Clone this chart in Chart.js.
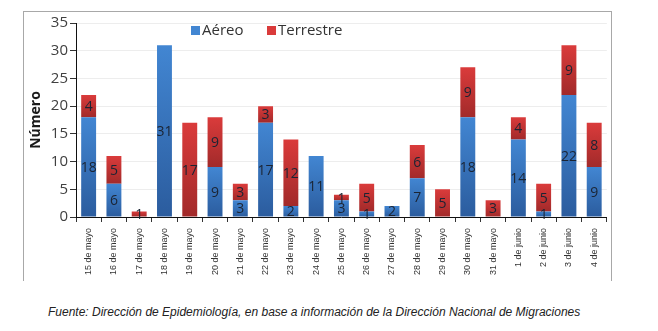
<!DOCTYPE html>
<html lang="es">
<head>
<meta charset="utf-8">
<title>Casos por vía de ingreso</title>
<script src="https://cdn.jsdelivr.net/npm/chart.js@4.4.1/dist/chart.umd.min.js"></script>
<style>
  body { margin: 0; background: #fff; width: 658px; height: 331px; position: relative; overflow: hidden; }
  #marco { position: absolute; left: 23px; top: 11px; width: 587px; height: 269px;
           border: 1px solid #a8a8a8; border-bottom: none; }
  #marco canvas { display: block; }
  #fuente { position: absolute; left: 48px; top: 305px; margin: 0;
            font: italic 12px "Liberation Sans", Arial, sans-serif; color: #222; }
</style>
</head>
<body>
<div id="marco"><canvas id="grafico" width="587" height="269"></canvas></div>
<p id="fuente">Fuente: Dirección de Epidemiología, en base a información de la Dirección Nacional de Migraciones</p>

<script>
// Fechas y casos por día
const fechas = [
  '15 de mayo', '16 de mayo', '17 de mayo', '18 de mayo', '19 de mayo', '20 de mayo',
  '21 de mayo', '22 de mayo', '23 de mayo', '24 de mayo', '25 de mayo', '26 de mayo',
  '27 de mayo', '28 de mayo', '29 de mayo', '30 de mayo', '31 de mayo',
  '1 de junio', '2 de junio', '3 de junio', '4 de junio'
];
const aereo     = [18, 6, 0, 31, 0, 9, 3, 17, 2, 11, 3, 1, 2, 7, 0, 18, 0, 14, 1, 22, 9];
const terrestre = [4, 5, 1, 0, 17, 9, 3, 3, 12, 0, 1, 5, 0, 6, 5, 9, 3, 4, 5, 9, 8];
const ticksY = [0, 5, 10, 15, 20, 25, 30, 35];

const AZUL = ['#4286d2', '#2b5c9e'];
const ROJO = ['#da3b3b', '#a22a2a'];

// Degradado vertical por segmento (claro arriba, oscuro abajo)
function degradado(colores, bajo, alto) {
  return function(c) {
    const chart = c.chart;
    const y = chart.scales.y;
    if (!y || c.dataIndex === undefined) return colores[0];
    const i = c.dataIndex;
    const y0 = y.getPixelForValue(alto(i));
    const y1 = y.getPixelForValue(bajo(i));
    if (!isFinite(y0) || !isFinite(y1) || y0 === y1) return colores[0];
    const g = chart.ctx.createLinearGradient(0, y0, 0, y1);
    g.addColorStop(0, colores[0]);
    g.addColorStop(1, colores[1]);
    return g;
  };
}

// Números dentro de cada segmento
const etiquetas = {
  id: 'etiquetas',
  afterDatasetsDraw(chart) {
    const ctx = chart.ctx;
    ctx.save();
    ctx.font = '14px "Open Sans", sans-serif';
    ctx.fillStyle = '#1b2433';
    ctx.textAlign = 'center';
    ctx.textBaseline = 'middle';
    chart.data.datasets.forEach((ds, i) => {
      chart.getDatasetMeta(i).data.forEach((bar, j) => {
        const v = ds.data[j];
        if (!v) return;
        ctx.fillText(String(v), bar.x, (bar.y + bar.base) / 2 + 1);
      });
    });
    ctx.restore();
  }
};

// Leyenda dentro del área del gráfico
const leyenda = {
  id: 'leyenda',
  afterDraw(chart) {
    const ctx = chart.ctx;
    const items = [
      { x: 167, texto: chart.data.datasets[0].label, color: AZUL[0] },
      { x: 243, texto: chart.data.datasets[1].label, color: ROJO[0] }
    ];
    ctx.save();
    ctx.font = '15px "Open Sans", sans-serif';
    ctx.textBaseline = 'middle';
    items.forEach(it => {
      ctx.fillStyle = it.color;
      ctx.fillRect(it.x, 14, 9, 9);
      ctx.fillStyle = '#333';
      ctx.fillText(it.texto, it.x + 11, 19);
    });
    ctx.restore();
  }
};

new Chart(document.getElementById('grafico'), {
  type: 'bar',
  data: {
    labels: fechas,
    datasets: [
      {
        label: 'Aéreo',
        data: aereo,
        backgroundColor: degradado(AZUL, () => 0, i => aereo[i]),
        categoryPercentage: 1,
        barPercentage: 0.59
      },
      {
        label: 'Terrestre',
        data: terrestre,
        backgroundColor: degradado(ROJO, i => aereo[i], i => aereo[i] + terrestre[i]),
        categoryPercentage: 1,
        barPercentage: 0.59
      }
    ]
  },
  options: {
    responsive: false,
    animation: false,
    layout: { padding: { top: 6, right: 0, left: 0, bottom: 0 } },
    plugins: {
      legend: { display: false },
      tooltip: { enabled: false }
    },
    scales: {
      x: {
        stacked: true,
        grid: { offset: true, drawOnChartArea: false, tickLength: 5, tickColor: '#333' },
        border: { color: '#111', width: 1 },
        ticks: {
          autoSkip: false, maxRotation: 90, minRotation: 90, padding: 6,
          color: '#333', font: { family: '"Liberation Sans", Arial, sans-serif', size: 9 }
        },
        afterFit(s) { s.height = 64; }
      },
      y: {
        stacked: true,
        min: 0, max: 35,
        afterBuildTicks(s) { s.ticks = ticksY.map(v => ({ value: v })); },
        grid: { color: '#ededed', tickLength: 6, tickColor: '#333' },
        border: { color: '#111', width: 1 },
        ticks: { color: '#404040', padding: 2, font: { family: '"Open Sans", sans-serif', size: 15 } },
        title: {
          display: true, text: 'Número', color: '#1a1a1a', padding: { top: 4, bottom: 0 },
          font: { family: '"Open Sans", sans-serif', size: 14, weight: 'bold' }
        },
        afterFit(s) { s.width = 52; }
      }
    }
  },
  plugins: [etiquetas, leyenda]
});
</script>
</body>
</html>
